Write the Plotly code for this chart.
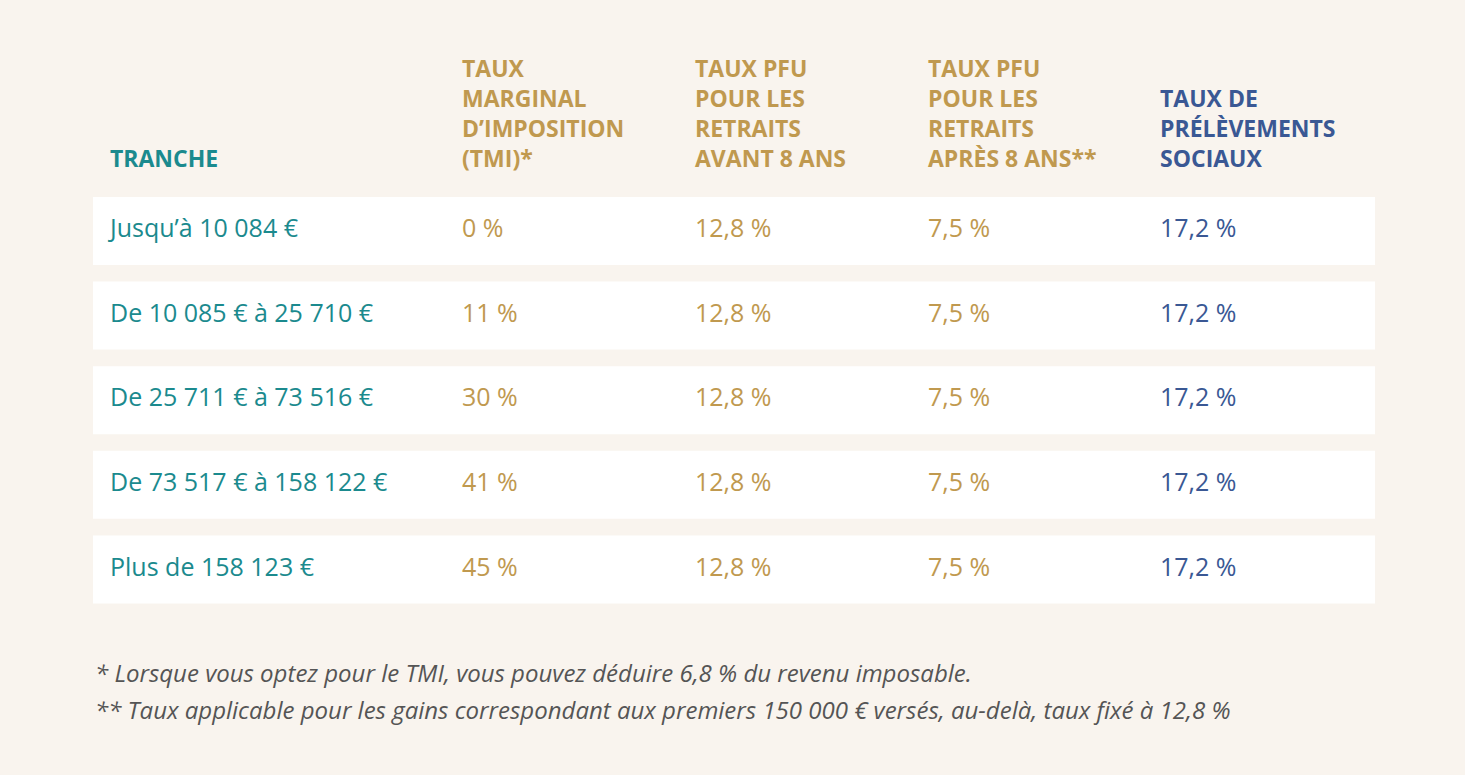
import plotly.graph_objects as go

tranches = ["Jusqu’à 10 084 €", "De 10 085 € à 25 710 €", "De 25 711 € à 73 516 €",
            "De 73 517 € à 158 122 €", "Plus de 158 123 €"]
tmi = ["0 %", "11 %", "30 %", "41 %", "45 %"]
pfu_avant = ["12,8 %"] * 5
pfu_apres = ["7,5 %"] * 5
prelev = ["17,2 %"] * 5
headers = ["TRANCHE", "TAUX<br>MARGINAL<br>D’IMPOSITION<br>(TMI)*", "TAUX PFU<br>POUR LES<br>RETRAITS<br>AVANT 8 ANS",
           "TAUX PFU<br>POUR LES<br>RETRAITS<br>APRÈS 8 ANS**", "TAUX DE<br>PRÉLÈVEMENTS<br>SOCIAUX"]
notes = ["* Lorsque vous optez pour le TMI, vous pouvez déduire 6,8 % du revenu imposable.",
         "** Taux applicable pour les gains correspondant aux premiers 150 000 € versés, au-delà, taux fixé à 12,8 %"]

BG = "#F9F4EE"; TEAL = "#1B8A8E"; GOLD = "#C0994F"; BLUE = "#3A5894"
col_x = [110, 462, 695, 928, 1160]
col_colors = [TEAL, GOLD, GOLD, GOLD, BLUE]
columns = [tranches, tmi, pfu_avant, pfu_apres, prelev]
row_y0, row_step, row_h = 231, 84.6, 68

fig = go.Figure()
for i in range(len(tranches)):
    yc = row_y0 + i * row_step
    fig.add_shape(type="rect", x0=93, x1=1375, y0=yc - row_h / 2, y1=yc + row_h / 2,
                  fillcolor="white", line_width=0, layer="below")
for c, (vals, x, col) in enumerate(zip(columns, col_x, col_colors)):
    fig.add_trace(go.Scatter(x=[x] * len(vals), y=[row_y0 + i * row_step for i in range(len(vals))],
                             mode="text", text=vals, textposition="middle right",
                             textfont=dict(family="Open Sans", size=25, color=col), hoverinfo="skip",
                             showlegend=False))
    fig.add_annotation(x=x - 2, y=176, xref="x", yref="y", text="<b>" + headers[c] + "</b>",
                       xanchor="left", yanchor="bottom", align="left", showarrow=False,
                       font=dict(family="Open Sans", size=23, color=col))
for k, n in enumerate(notes):
    fig.add_annotation(x=93, y=672 + k * 37, xref="x", yref="y", text="<i>" + n + "</i>",
                       xanchor="left", yanchor="middle", align="left", showarrow=False,
                       font=dict(family="Open Sans", size=24, color="#555555"))

fig.update_layout(width=1465, height=775, margin=dict(l=0, r=0, t=0, b=0),
                  paper_bgcolor=BG, plot_bgcolor=BG,
                  xaxis=dict(range=[0, 1465], visible=False, fixedrange=True),
                  yaxis=dict(range=[775, 0], visible=False, fixedrange=True))
fig.write_html("out.html", config={"displayModeBar": False},
               post_script="document.body.style.margin='0';document.body.style.overflow='hidden';"
                           "document.body.style.background='#F9F4EE';")
